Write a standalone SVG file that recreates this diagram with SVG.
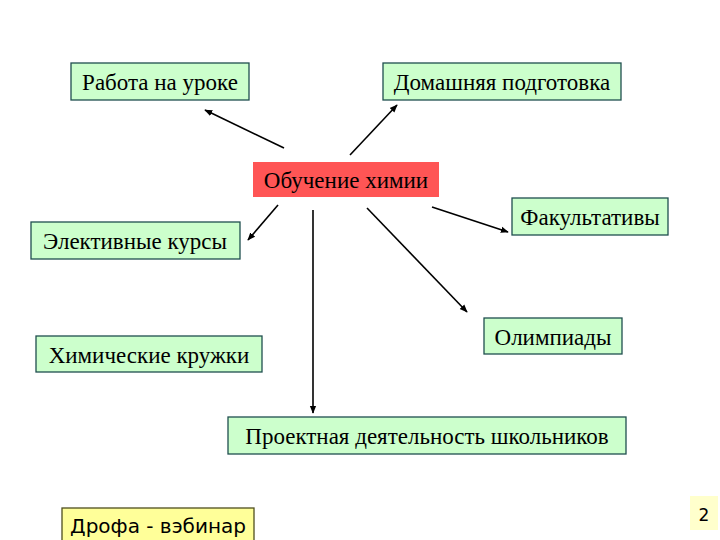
<svg xmlns="http://www.w3.org/2000/svg" width="720" height="540" viewBox="0 0 720 540">
<defs>
<style>
.n{fill:#ccffcc;stroke:#1f4f4f;stroke-width:1.3}
.t{font-family:"Liberation Serif","Times New Roman",serif;font-size:23px;fill:#000}
.c line{stroke:#000;stroke-width:1.6;marker-end:url(#a)}
</style>
<marker id="a" viewBox="0 0 10 10" refX="9" refY="5" markerWidth="5" markerHeight="5" orient="auto"><path d="M0,1 L10,5 L0,9 z" fill="#000"/></marker>
</defs>
<rect width="720" height="540" fill="#fff"/>
<g class="c">
<line x1="284" y1="148" x2="205" y2="110"/>
<line x1="350" y1="155" x2="397" y2="105"/>
<line x1="278" y1="205" x2="248" y2="240"/>
<line x1="432" y1="207" x2="508" y2="232"/>
<line x1="367" y1="208" x2="467" y2="312"/>
<line x1="313" y1="210" x2="313" y2="413"/>
</g>
<g id="n1"><rect class="n" x="71" y="63" width="178" height="37"/><text class="t" x="160" y="90" text-anchor="middle">Работа на уроке</text></g>
<g id="n2"><rect class="n" x="383" y="63" width="238" height="37"/><text class="t" x="502" y="90" text-anchor="middle">Домашняя подготовка</text></g>
<g id="n0"><rect x="253" y="162" width="186" height="35" fill="#ff5555"/><text class="t" x="346" y="188" text-anchor="middle">Обучение химии</text></g>
<g id="n3"><rect class="n" x="512" y="198" width="156" height="37"/><text class="t" x="590" y="225" text-anchor="middle">Факультативы</text></g>
<g id="n4"><rect class="n" x="31" y="222" width="209" height="37"/><text class="t" x="135" y="249" text-anchor="middle">Элективные курсы</text></g>
<g id="n5"><rect class="n" x="36" y="336" width="226" height="36"/><text class="t" x="149" y="363" text-anchor="middle">Химические кружки</text></g>
<g id="n6"><rect class="n" x="484" y="318" width="138" height="36"/><text class="t" x="553" y="345" text-anchor="middle">Олимпиады</text></g>
<g id="n7"><rect class="n" x="228" y="417" width="398" height="37"/><text class="t" x="427" y="444" text-anchor="middle">Проектная деятельность школьников</text></g>
<g id="n8"><rect x="62" y="508" width="192" height="34" fill="#ffff99" stroke="#4f4f1f" stroke-width="1.3"/><text x="158" y="533" text-anchor="middle" font-family="DejaVu Sans,sans-serif" font-size="20">Дрофа - вэбинар</text></g>
<g id="pg"><rect x="690" y="496" width="28" height="34" fill="#ffffcc"/><text x="704" y="521" text-anchor="middle" font-family="DejaVu Sans,sans-serif" font-size="17">2</text></g>
</svg>
